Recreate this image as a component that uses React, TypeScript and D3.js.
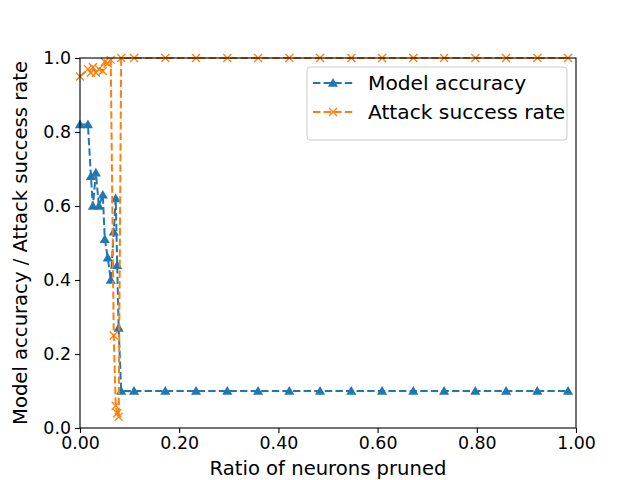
import { useEffect, useRef } from 'react';
import * as d3 from 'd3';

// pruning ratio for every evaluation step
const ratios = [
  0, 0.016, 0.022, 0.026, 0.032, 0.038, 0.046, 0.05, 0.056, 0.062, 0.068, 0.072, 0.075, 0.078, 0.083,
  0.109, 0.172, 0.234, 0.297, 0.359, 0.422, 0.484, 0.547, 0.609, 0.672, 0.734, 0.797, 0.859, 0.922, 0.984,
];
const modelAccuracy = [
  0.82, 0.82, 0.68, 0.6, 0.69, 0.6, 0.63, 0.51, 0.46, 0.4, 0.53, 0.62, 0.44, 0.27, 0.1,
  0.1, 0.1, 0.1, 0.1, 0.1, 0.1, 0.1, 0.1, 0.1, 0.1, 0.1, 0.1, 0.1, 0.1, 0.1,
];
const attackSuccess = [
  0.95, 0.97, 0.96, 0.975, 0.96, 0.97, 0.965, 0.99, 0.985, 0.995, 0.25, 0.06, 0.04, 0.03, 1.0,
  1.0, 1.0, 1.0, 1.0, 1.0, 1.0, 1.0, 1.0, 1.0, 1.0, 1.0, 1.0, 1.0, 1.0, 1.0,
];
const xTicks = [0, 0.2, 0.4, 0.6, 0.8, 1.0];
const yTicks = [0, 0.2, 0.4, 0.6, 0.8, 1.0];
const seriesNames = ['Model accuracy', 'Attack success rate'];

const BLUE = '#1f77b4';
const ORANGE = '#ff7f0e';

const App = () => {
  const ref = useRef<SVGSVGElement>(null);

  useEffect(() => {
    const svg = d3.select(ref.current);
    svg.selectAll('*').remove();

    const margin = { top: 58, right: 64, bottom: 52, left: 80 };
    const width = 640;
    const height = 480;
    const innerW = width - margin.left - margin.right;
    const innerH = height - margin.top - margin.bottom;
    const font = 'DejaVu Sans, sans-serif';
    const tickFs = 17.4;
    const labelFs = 19.6;

    const x = d3.scaleLinear().domain([0, 1]).range([0, innerW]);
    const y = d3.scaleLinear().domain([0, 1]).range([innerH, 0]);

    svg.append('rect').attr('width', width).attr('height', height).attr('fill', 'white');

    const g = svg.append('g').attr('transform', `translate(${margin.left},${margin.top})`);

    const series = [
      { values: modelAccuracy, color: BLUE, marker: 'tri' },
      { values: attackSuccess, color: ORANGE, marker: 'x' },
    ];

    const line = d3.line<[number, number]>().x(d => x(d[0])).y(d => y(d[1]));
    const tri = d3.symbol().type(d3.symbolTriangle).size(44);

    const drawMarker = (sel: any, kind: string, color: string) => {
      if (kind === 'tri') {
        sel.append('path').attr('d', tri()).attr('fill', color).attr('transform', 'translate(0,0.8)');
      } else {
        sel.append('path').attr('d', 'M-4,-4L4,4M-4,4L4,-4')
          .attr('stroke', color).attr('stroke-width', 1.3).attr('fill', 'none');
      }
    };

    series.forEach(s => {
      const pts: [number, number][] = ratios.map((r, i) => [r, s.values[i]]);
      g.append('path')
        .attr('d', line(pts))
        .attr('fill', 'none')
        .attr('stroke', s.color)
        .attr('stroke-width', 2)
        .attr('stroke-dasharray', '7.4,3.2');
      const m = g.selectAll(null).data(pts).enter().append('g')
        .attr('transform', d => `translate(${x(d[0])},${y(d[1])})`);
      drawMarker(m, s.marker, s.color);
    });

    // frame
    g.append('rect').attr('width', innerW).attr('height', innerH)
      .attr('fill', 'none').attr('stroke', 'black').attr('stroke-width', 1.1);

    const xAxis = g.append('g').attr('transform', `translate(0,${innerH})`)
      .call(d3.axisBottom(x).tickValues(xTicks).tickFormat(d3.format('.2f')).tickSize(5).tickPadding(4));
    const yAxis = g.append('g')
      .call(d3.axisLeft(y).tickValues(yTicks).tickFormat(d3.format('.1f')).tickSize(5).tickPadding(4));
    [xAxis, yAxis].forEach(a => {
      a.select('.domain').remove();
      a.selectAll('text').attr('font-family', font).attr('font-size', tickFs).attr('fill', 'black');
      a.selectAll('line').attr('stroke', 'black').attr('stroke-width', 1.1);
    });

    g.append('text')
      .attr('x', innerW / 2).attr('y', innerH + 47)
      .attr('text-anchor', 'middle').attr('font-family', font).attr('font-size', labelFs)
      .text('Ratio of neurons pruned');
    g.append('text')
      .attr('transform', 'rotate(-90)')
      .attr('x', -innerH / 2).attr('y', -53)
      .attr('text-anchor', 'middle').attr('font-family', font).attr('font-size', labelFs)
      .text('Model accuracy / Attack success rate');

    // legend
    const lg = g.append('g').attr('transform', `translate(${innerW - 269},9)`);
    lg.append('rect').attr('width', 260).attr('height', 73).attr('rx', 3)
      .attr('fill', 'white').attr('fill-opacity', 0.8).attr('stroke', '#cccccc');
    series.forEach((s, i) => {
      const ly = 16 + i * 29;
      lg.append('line').attr('x1', 6).attr('x2', 46).attr('y1', ly).attr('y2', ly)
        .attr('stroke', s.color).attr('stroke-width', 2).attr('stroke-dasharray', '7.4,3.2');
      const mk = lg.append('g').attr('transform', `translate(26,${ly})`);
      drawMarker(mk, s.marker, s.color);
      lg.append('text').attr('x', 61).attr('y', ly + 7)
        .attr('font-family', font).attr('font-size', 20.2).text(seriesNames[i]);
    });
  }, []);

  return <svg ref={ref} width={640} height={480} style={{ display: 'block', margin: '-8px 0 0 -8px' }} />;
};

export default App;
